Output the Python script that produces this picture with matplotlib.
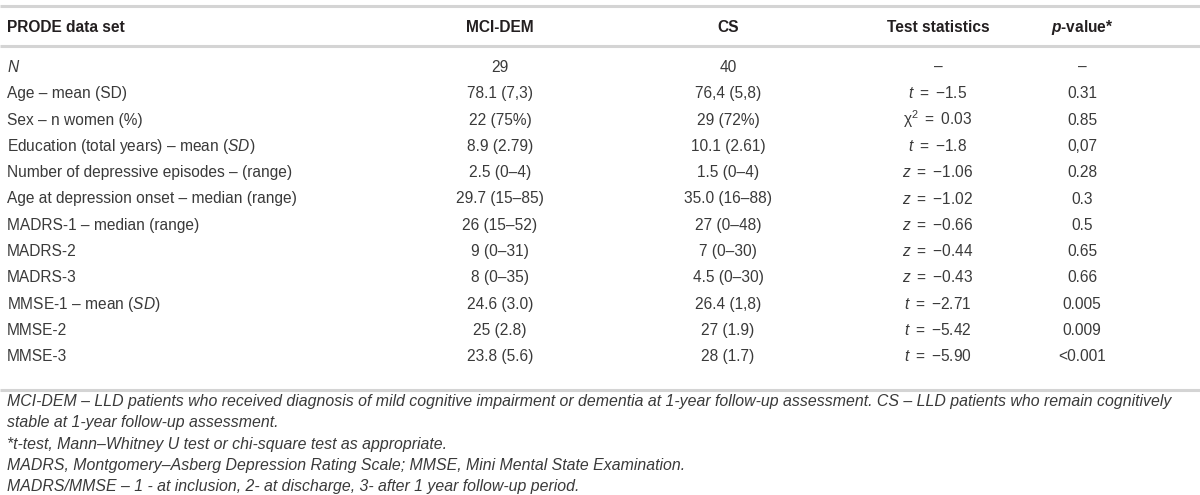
import matplotlib
matplotlib.use("Agg")
import matplotlib.pyplot as plt

plt.rcParams['font.family'] = ['Liberation Sans', 'DejaVu Sans']
plt.rcParams['mathtext.fontset'] = 'custom'
plt.rcParams['mathtext.rm'] = 'Liberation Sans'
plt.rcParams['mathtext.it'] = 'Liberation Sans:italic'
plt.rcParams['mathtext.bf'] = 'Liberation Sans:bold'
plt.rcParams['mathtext.bfit'] = 'Liberation Sans:italic:bold'

# table content
headers = ["PRODE data set", "MCI-DEM", "CS", "Test statistics", r"$\mathbfit{p}$-value*"]
row_labels = ["$N$", "Age – mean (SD)", "Sex – n women (%)",
              "Education (total years) – mean ($SD$)",
              "Number of depressive episodes – (range)",
              "Age at depression onset – median (range)",
              "MADRS-1 – median (range)", "MADRS-2", "MADRS-3",
              "MMSE-1 – mean ($SD$)", "MMSE-2", "MMSE-3"]
mci_dem = ["29", "78.1 (7,3)", "22 (75%)", "8.9 (2.79)", "2.5 (0–4)", "29.7 (15–85)",
           "26 (15–52)", "9 (0–31)", "8 (0–35)", "24.6 (3.0)", "25 (2.8)", "23.8 (5.6)"]
cs = ["40", "76,4 (5,8)", "29 (72%)", "10.1 (2.61)", "1.5 (0–4)", "35.0 (16–88)",
      "27 (0–48)", "7 (0–30)", "4.5 (0–30)", "26.4 (1,8)", "27 (1.9)", "28 (1.7)"]
test_stats = ["–", r"$t$ $=$ −1.5", r"χ$^2$ $=$ 0.03", r"$t$ $=$ −1.8", r"$z$ $=$ −1.06",
              r"$z$ $=$ −1.02", r"$z$ $=$ −0.66", r"$z$ $=$ −0.44", r"$z$ $=$ −0.43",
              r"$t$ $=$ −2.71", r"$t$ $=$ −5.42", r"$t$ $=$ −5.90"]
p_values = ["–", "0.31", "0.85", "0,07", "0.28", "0.3", "0.5", "0.65", "0.66",
            "0.005", "0.009", "<0.001"]
footnotes = [
    "MCI-DEM – LLD patients who received diagnosis of mild cognitive impairment or dementia at 1-year follow-up assessment. CS – LLD patients who remain cognitively",
    "stable at 1-year follow-up assessment.",
    "*t-test, Mann–Whitney U test or chi-square test as appropriate.",
    "MADRS, Montgomery–Asberg Depression Rating Scale; MMSE, Mini Mental State Examination.",
    "MADRS/MMSE – 1 - at inclusion, 2- at discharge, 3- after 1 year follow-up period.",
]

fig = plt.figure(figsize=(12, 4.95), dpi=100)
ax = fig.add_axes([0, 0, 1, 1])
ax.set_xlim(0, 1200)
ax.set_ylim(495, 0)
ax.axis('off')

line_col = '#d4d4d4'
for y in [6, 46, 390]:
    ax.plot([0, 1200], [y, y], color=line_col, lw=2.2, solid_capstyle='butt')

fs = 11.2
col_x = [7, 500, 728, 938, 1082]
ax.text(col_x[0], 32, headers[0], ha='left', va='baseline', fontsize=fs,
        fontweight='bold', color='#231f20')
for x, h in zip(col_x[1:], headers[1:]):
    ax.text(x, 32, h, ha='center', va='baseline', fontsize=fs,
            fontweight='bold', color='#231f20')

body_col = '#3a3a3a'
for i in range(len(row_labels)):
    y = 72 + i * 26.3
    ax.text(col_x[0], y, row_labels[i], ha='left', va='baseline', fontsize=fs, color=body_col)
    ax.text(col_x[1], y, mci_dem[i], ha='center', va='baseline', fontsize=fs, color=body_col)
    ax.text(col_x[2], y, cs[i], ha='center', va='baseline', fontsize=fs, color=body_col)
    ax.text(col_x[3], y, test_stats[i], ha='center', va='baseline', fontsize=fs, color=body_col)
    ax.text(col_x[4], y, p_values[i], ha='center', va='baseline', fontsize=fs, color=body_col)

for j, f in enumerate(footnotes):
    ax.text(col_x[0], 406 + j * 21.3, f, ha='left', va='baseline', fontsize=11.4,
            style='italic', color=body_col)

plt.savefig('out.png', dpi=100)
